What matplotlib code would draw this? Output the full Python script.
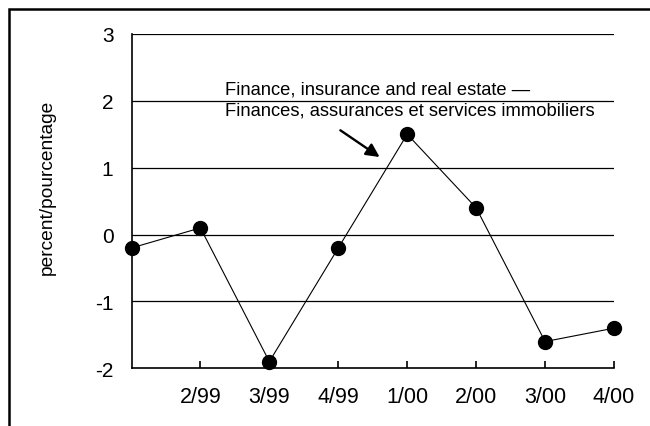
import matplotlib.pyplot as plt
from matplotlib.patches import Rectangle

plt.rcParams['font.family'] = ['Liberation Sans', 'DejaVu Sans']

# trimestres (le premier n'a pas d'étiquette sur l'original)
quarters = ['1/99', '2/99', '3/99', '4/99', '1/00', '2/00', '3/00', '4/00']
values = [-0.2, 0.1, -1.9, -0.2, 1.5, 0.4, -1.6, -1.4]
tick_labels = ['2/99', '3/99', '4/99', '1/00', '2/00', '3/00', '4/00']
y_ticks = [-2, -1, 0, 1, 2, 3]

fig = plt.figure(figsize=(6.5, 4.27), dpi=100)
ax = fig.add_axes([131.5 / 650, 1 - 369.3 / 427, (614 - 131.5) / 650, (369.3 - 35) / 427])

x = list(range(len(quarters)))
ax.plot(x, values, color='black', linewidth=0.8, marker='o', markersize=10,
        markerfacecolor='black', markeredgecolor='black', clip_on=False, zorder=3)

ax.set_xlim(0, len(quarters) - 1)
ax.set_ylim(-2, 3)
ax.set_yticks(y_ticks)
ax.set_yticklabels([str(v) for v in y_ticks], fontsize=15)
ax.set_xticks(x[1:])
ax.set_xticklabels(tick_labels, fontsize=15.5)

# quadrillage horizontal
for v in y_ticks[1:]:
    ax.axhline(v, color='black', linewidth=0.9, zorder=1)

ax.spines['top'].set_visible(False)
ax.spines['right'].set_visible(False)
ax.spines['left'].set_linewidth(1.2)
ax.spines['bottom'].set_linewidth(1.2)
ax.tick_params(axis='x', direction='in', length=5, width=1.2, pad=13)
ax.tick_params(axis='y', length=0, pad=13)

fig.text(47 / 650, 1 - 187 / 427, 'percent/pourcentage', rotation=90,
         ha='center', va='center', fontsize=13.8)

# annotation avec flèche
ax.text(1.36, 2.17, 'Finance, insurance and real estate \u2014', fontsize=13.2,
        ha='left', va='center', zorder=4)
ax.text(1.36, 1.87, 'Finances, assurances et services immobiliers', fontsize=13.2,
        ha='left', va='center', zorder=4)
ax.annotate('', xy=(3.6, 1.16), xytext=(3.03, 1.56),
            arrowprops=dict(arrowstyle='-|>', color='black', lw=1.7,
                            mutation_scale=20, shrinkA=0, shrinkB=0))

# cadre de la figure
fig.patches.append(Rectangle((8.5 / 650, -0.1), 1.2, 1 - 10 / 427 + 0.1,
                             transform=fig.transFigure, fill=False,
                             edgecolor='black', linewidth=1.8))

fig.savefig('out.png', dpi=100)
